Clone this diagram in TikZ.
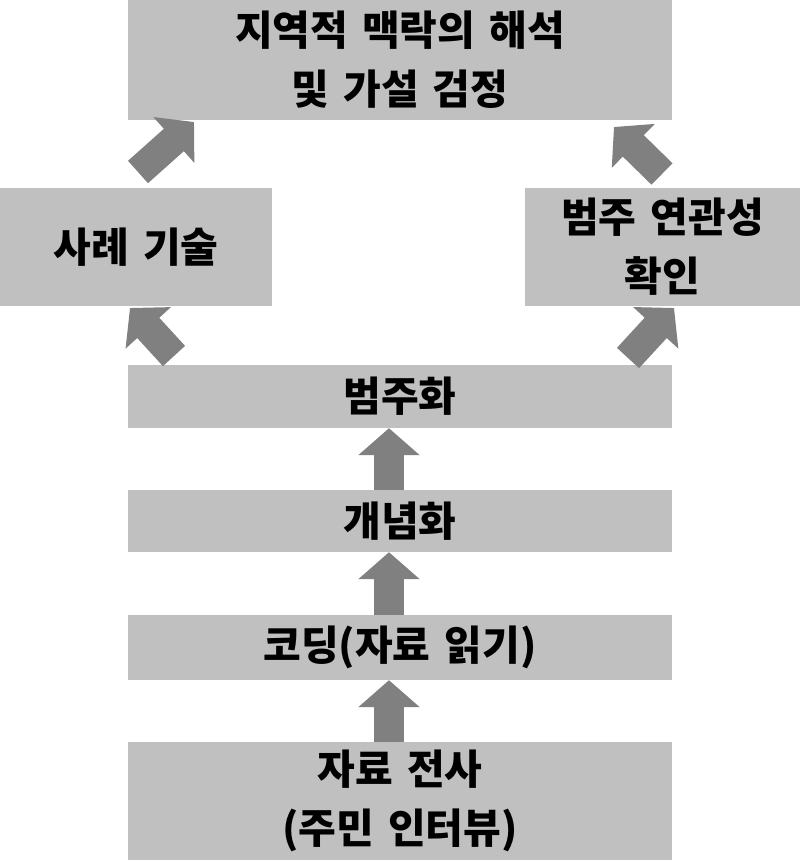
\documentclass[tikz,border=0pt]{standalone}
\usepackage{fontspec}
\setmainfont{Noto Sans CJK KR}[WordSpace=1.5]
\usetikzlibrary{arrows.meta}
\definecolor{boxgray}{RGB}{192,192,192}
\definecolor{arrgray}{RGB}{128,128,128}
\begin{document}
\begin{tikzpicture}[x=1pt,y=-1pt,
  box/.style={fill=boxgray, draw=none, inner sep=0pt, align=center,
    font=\bfseries\fontsize{41}{59}\selectfont},
  flow/.style={draw=arrgray, line width=30pt, line cap=butt,
    -{Triangle[length=27pt,width=60pt]}}]
\useasboundingbox (0,0) rectangle (800,860);
\node[box, minimum width=544pt, minimum height=120pt] (top) at (400,60) {지역적 맥락의 해석\\및 가설 검정};
\node[box, minimum width=272pt, minimum height=118pt] (left) at (136,247) {사례 기술};
\node[box, minimum width=275pt, minimum height=118pt] (right) at (662.5,247) {범주 연관성\\확인};
\node[box, minimum width=544pt, minimum height=63pt] (cat) at (400,396.5) {범주화};
\node[box, minimum width=544pt, minimum height=62pt] (con) at (400,521) {개념화};
\node[box, minimum width=544pt, minimum height=65pt] (cod) at (400,647.5) {코딩(자료 읽기)};
\node[box, minimum width=544pt, minimum height=118pt] (tra) at (400,801) {자료 전사\\(주민 인터뷰)};
\coordinate (ulA) at (138,172);
\coordinate (ulB) at (194,122);
\coordinate (urA) at (662,174);
\coordinate (urB) at (614,127);
\coordinate (llA) at (174,356);
\coordinate (llB) at (130,308);
\coordinate (lrA) at (628,358);
\coordinate (lrB) at (674,308);
\draw[flow] ([xshift=-11pt]tra.north) -- ([xshift=-11pt]cod.south);
\draw[flow] ([xshift=-11pt]cod.north) -- ([xshift=-11pt]con.south);
\draw[flow] ([xshift=-11pt]con.north) -- ([xshift=-11pt]cat.south);
\draw[flow] (llA) -- (llB);
\draw[flow] (lrA) -- (lrB);
\draw[flow] (ulA) -- (ulB);
\draw[flow] (urA) -- (urB);
\end{tikzpicture}
\end{document}
